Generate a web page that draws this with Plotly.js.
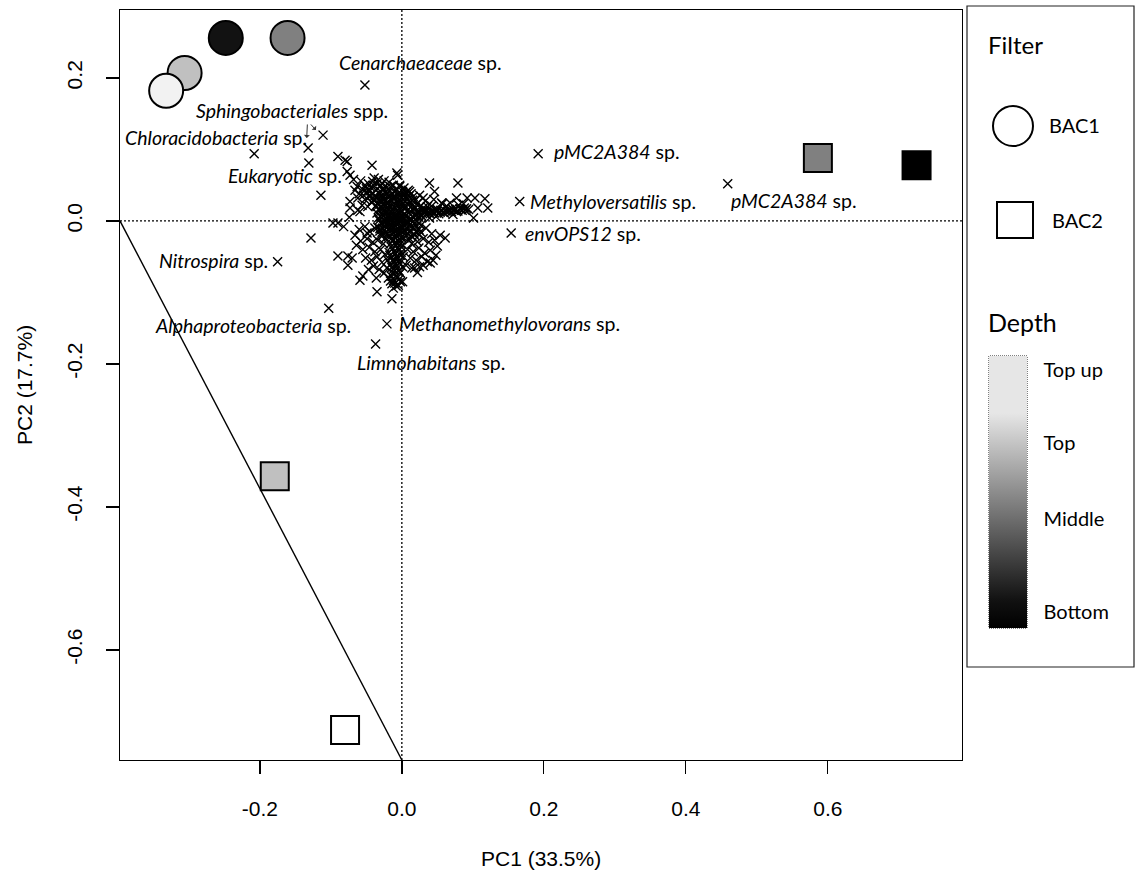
<!DOCTYPE html>
<html>
<head>
<meta charset="utf-8">
<script src="https://cdn.plot.ly/plotly-3.0.1.min.js"></script>
<style>html,body{margin:0;padding:0;background:#fff;}#chart{width:1136px;height:881px;}</style>
</head>
<body>
<div id="chart"></div>
<script>
// ---------------- data ----------------
// sample scores (Filter BAC1 = circles, BAC2 = squares)
const bac1PC1 = [-0.306, -0.332, -0.248, -0.161];
const bac1PC2 = [0.207, 0.182, 0.256, 0.256];
const bac1Depth = ['Top', 'Top up', 'Bottom', 'Middle'];
const bac2PC1 = [-0.080, -0.179, 0.586, 0.725];
const bac2PC2 = [-0.712, -0.357, 0.088, 0.078];
const bac2Depth = ['Top up', 'Top', 'Middle', 'Bottom'];
const depthNames = ['Bottom', 'Middle', 'Top', 'Top up'];
const depthColors = {'Top up': '#f2f2f2', 'Top': '#c0c0c0', 'Middle': '#808080', 'Bottom': '#121212'};
const depthColorsSq = {'Top up': '#ffffff', 'Top': '#c0c0c0', 'Middle': '#808080', 'Bottom': '#000000'};
const depthScalePos = [0.06, 0.40, 0.68, 0.95];

// species (OTU) scores, [PC1, PC2]
const speciesScores = [
  [-0.052,0.190],[-0.208,0.094],[-0.132,0.102],[-0.111,0.120],[-0.131,0.081],[-0.114,0.036],
  [-0.175,-0.057],[-0.128,-0.024],[-0.103,-0.122],[-0.021,-0.144],[-0.037,-0.172],
  [0.192,0.094],[0.166,0.027],[0.154,-0.017],[0.459,0.052],
  [-0.090,0.090],[-0.077,0.083],[-0.080,0.085],[-0.042,0.078],[-0.077,0.069],[-0.073,0.064],
  [-0.007,0.067],[-0.006,0.064],[-0.066,0.043],[-0.073,0.027],[-0.073,0.018],[-0.062,0.015],
  [0.039,0.053],[0.046,0.041],[0.079,0.053],[0.077,0.032],[0.092,0.032],[0.103,0.032],[0.117,0.031],
  [0.107,0.018],[0.121,0.018],[0.101,0.004],[0.025,0.036],[0.030,0.032],[-0.097,-0.003],[-0.090,-0.003],
  [0.056,0.025],[0.049,0.015],[0.035,0.015],[0.011,0.041],[-0.003,0.050],
  [-0.090,-0.049],[-0.076,-0.049],[-0.070,-0.052],[-0.076,-0.062],[-0.059,-0.083],[-0.055,-0.077],
  [-0.035,-0.099],[-0.014,-0.109],[0.001,-0.085],[-0.066,-0.020],[-0.049,-0.017],
  [0.044,-0.055],[0.040,-0.059],[0.025,-0.064],[0.018,-0.066],[0.061,-0.024],[0.054,-0.020],
  [-0.059,0.013],[-0.074,0.005],[-0.082,-0.008],
  // core
  [-0.030,0.049],[-0.021,0.047],[-0.012,0.050],[0.003,0.046],
  [-0.036,0.043],[-0.027,0.045],[-0.017,0.042],[-0.008,0.044],[0.001,0.041],[0.009,0.043],
  [-0.041,0.039],[-0.032,0.038],[-0.024,0.040],[-0.014,0.037],[-0.005,0.039],[0.004,0.036],[0.013,0.038],
  [-0.045,0.035],[-0.035,0.033],[-0.028,0.036],[-0.019,0.034],[-0.012,0.031],[-0.003,0.035],[0.006,0.033],[0.016,0.034],
  [-0.038,0.030],[-0.031,0.028],[-0.025,0.031],[-0.016,0.029],[-0.009,0.032],[-0.001,0.028],[0.008,0.030],[0.019,0.029],
  [-0.042,0.026],[-0.034,0.024],[-0.027,0.027],[-0.020,0.025],[-0.013,0.023],[-0.006,0.026],[0.001,0.024],[0.011,0.026],[0.022,0.025],
  [-0.037,0.021],[-0.029,0.019],[-0.023,0.022],[-0.016,0.020],[-0.010,0.018],[-0.004,0.021],[0.004,0.019],[0.014,0.021],[0.026,0.020],
  [-0.033,0.016],[-0.026,0.014],[-0.019,0.017],[-0.013,0.015],[-0.008,0.013],[-0.002,0.016],[0.007,0.014],[0.017,0.016],[0.029,0.015],
  [-0.035,0.011],[-0.028,0.009],[-0.021,0.012],[-0.015,0.010],[-0.009,0.008],[-0.003,0.011],[0.003,0.009],[0.010,0.011],[0.020,0.010],[0.032,0.012],
  [-0.030,0.006],[-0.023,0.004],[-0.017,0.007],[-0.011,0.005],[-0.005,0.003],[0.001,0.006],[0.008,0.004],[0.015,0.006],[0.024,0.005],
  [-0.032,0.001],[-0.025,-0.001],[-0.018,0.002],[-0.012,0.000],[-0.006,-0.002],[0.000,0.001],[0.006,-0.001],[0.013,0.001],[0.021,0.000],
  [-0.028,-0.005],[-0.021,-0.003],[-0.014,-0.006],[-0.008,-0.004],[-0.002,-0.006],[0.004,-0.003],[0.011,-0.005],[0.018,-0.004],[0.027,-0.006],
  [-0.034,-0.009],[-0.026,-0.011],[-0.019,-0.008],[-0.012,-0.010],[-0.005,-0.012],[0.001,-0.009],[0.008,-0.011],[0.016,-0.009],[0.024,-0.012],
  [-0.031,-0.014],[-0.023,-0.016],[-0.016,-0.013],[-0.010,-0.015],[-0.004,-0.017],[0.003,-0.014],[0.011,-0.016],[0.020,-0.015],
  [-0.027,-0.020],[-0.019,-0.022],[-0.013,-0.019],[-0.007,-0.021],[-0.001,-0.023],[0.006,-0.020],[0.014,-0.022],[0.025,-0.019],
  [-0.026,0.046],[-0.016,0.048],[-0.003,0.048],[0.006,0.040],
  [-0.039,0.034],[-0.030,0.041],[-0.021,0.038],[-0.010,0.040],[0.000,0.037],[0.010,0.035],
  [-0.040,0.029],[-0.029,0.032],[-0.022,0.029],[-0.013,0.033],[-0.004,0.030],[0.005,0.027],[0.015,0.029],
  [-0.035,0.020],[-0.027,0.023],[-0.018,0.021],[-0.008,0.022],[0.002,0.020],[0.009,0.022],[0.019,0.019],
  [-0.030,0.013],[-0.024,0.016],[-0.016,0.014],[-0.006,0.015],[0.001,0.013],[0.012,0.014],[0.023,0.013],
  [-0.033,0.004],[-0.026,0.007],[-0.019,0.005],[-0.009,0.006],[-0.002,0.004],[0.005,0.007],[0.012,0.003],[0.019,0.007],
  [-0.029,-0.003],[-0.022,0.000],[-0.015,-0.002],[-0.009,0.001],[-0.003,-0.001],[0.003,0.002],[0.009,-0.002],[0.016,-0.001],[0.024,-0.003],
  [-0.031,-0.011],[-0.024,-0.007],[-0.016,-0.010],[-0.008,-0.007],[-0.001,-0.010],[0.005,-0.007],[0.013,-0.008],[0.021,-0.008],
  [-0.028,-0.016],[-0.020,-0.018],[-0.013,-0.016],[-0.006,-0.018],[0.001,-0.016],[0.008,-0.018],[0.017,-0.018],
  [-0.023,-0.024],[-0.015,-0.025],[-0.009,-0.024],[-0.003,-0.026],[0.003,-0.024],[0.010,-0.027],
  // upper-left arm
  [-0.058,0.056],[-0.052,0.050],[-0.055,0.044],[-0.047,0.052],[-0.049,0.040],[-0.044,0.047],[-0.041,0.055],
  [-0.046,0.034],[-0.052,0.030],[-0.060,0.038],[-0.063,0.048],[-0.039,0.060],[-0.033,0.058],[-0.025,0.056],
  [-0.018,0.054],[-0.056,0.022],[-0.048,0.020],[-0.043,0.026],[-0.062,0.032],[-0.068,0.058],
  [-0.050,0.045],[-0.040,0.050],[-0.035,0.052],[-0.054,0.036],[-0.045,0.042],[-0.028,0.052],
  // tail to the right
  [0.020,0.008],[0.024,0.011],[0.028,0.007],[0.031,0.012],[0.034,0.009],[0.037,0.013],[0.040,0.010],
  [0.043,0.014],[0.046,0.011],[0.049,0.013],[0.052,0.010],[0.055,0.015],[0.058,0.012],[0.061,0.014],
  [0.064,0.013],[0.067,0.016],[0.070,0.013],[0.073,0.015],[0.076,0.016],[0.079,0.014],[0.082,0.017],
  [0.085,0.015],[0.088,0.018],[0.091,0.017],[0.094,0.016],[0.030,0.018],[0.036,0.020],[0.042,0.021],
  [0.048,0.006],[0.039,0.004],[0.063,0.021],[0.072,0.009],[0.057,0.024],[0.068,0.025],[0.080,0.022],
  [0.087,0.024],[0.033,0.028],[0.045,0.030],
  [0.022,0.013],[0.026,0.009],[0.032,0.015],[0.038,0.011],[0.044,0.012],[0.050,0.016],[0.054,0.012],
  [0.060,0.011],[0.066,0.014],[0.071,0.017],[0.077,0.013],[0.083,0.016],[0.089,0.015],
  // vertical arm
  [-0.012,-0.026],[-0.005,-0.028],[-0.016,-0.032],[-0.008,-0.034],[-0.001,-0.036],[-0.013,-0.039],
  [-0.004,-0.041],[-0.018,-0.044],[-0.009,-0.046],[-0.002,-0.048],[-0.014,-0.051],[-0.006,-0.053],
  [-0.011,-0.057],[-0.003,-0.059],[-0.016,-0.061],[-0.008,-0.063],[-0.012,-0.068],[-0.004,-0.070],
  [-0.010,-0.074],[-0.015,-0.077],[-0.006,-0.079],[-0.011,-0.083],[-0.002,-0.085],[-0.014,-0.088],
  [-0.008,-0.091],[-0.019,-0.080],[-0.021,-0.066],[0.001,-0.064],[-0.020,-0.055],[0.002,-0.050],
  [-0.009,-0.030],[-0.002,-0.032],[-0.015,-0.036],[-0.006,-0.038],[-0.011,-0.043],[-0.001,-0.044],
  [-0.017,-0.048],[-0.007,-0.050],[-0.013,-0.055],[-0.005,-0.057],[-0.009,-0.060],[-0.014,-0.065],
  [-0.007,-0.067],[-0.002,-0.073],[-0.013,-0.072],[-0.008,-0.077],[-0.004,-0.082],[-0.016,-0.084],
  [-0.010,-0.087],[-0.005,-0.090],[-0.012,-0.094],
  // lower-left lobe
  [-0.060,-0.012],[-0.052,-0.008],[-0.045,-0.015],[-0.038,-0.010],[-0.030,-0.020],[-0.058,-0.028],
  [-0.049,-0.025],[-0.041,-0.030],[-0.034,-0.027],[-0.026,-0.032],[-0.055,-0.040],[-0.046,-0.037],
  [-0.038,-0.043],[-0.030,-0.040],[-0.024,-0.047],[-0.051,-0.052],[-0.043,-0.055],[-0.035,-0.050],
  [-0.028,-0.058],[-0.040,-0.063],[-0.032,-0.068],[-0.025,-0.073],[-0.047,-0.068],[-0.064,-0.034],[-0.036,-0.080],
  // lower-right lobe
  [0.010,-0.024],[0.018,-0.020],[0.026,-0.015],[0.034,-0.010],[0.042,-0.018],[0.014,-0.032],[0.022,-0.029],
  [0.030,-0.025],[0.038,-0.030],[0.046,-0.027],[0.008,-0.040],[0.016,-0.043],[0.024,-0.038],[0.032,-0.045],
  [0.040,-0.041],[0.012,-0.052],[0.020,-0.055],[0.028,-0.050],[0.036,-0.057],[0.006,-0.062],[0.014,-0.066],
  [0.050,-0.035],[0.048,-0.048],[0.030,-0.062],[0.022,-0.072]
];

// taxon labels
const taxonNames = ['Cenarchaeaceae','Sphingobacteriales','Chloracidobacteria','Eukaryotic','pMC2A384',
  'Methyloversatilis','pMC2A384','envOPS12','Nitrospira','Alphaproteobacteria','Methanomethylovorans','Limnohabitans'];
const taxonSuffix = ['sp.','spp.','sp.','sp.','sp.','sp.','sp.','sp.','sp.','sp.','sp.','sp.'];
const taxonLabelPC1 = [-0.0915,-0.293,-0.393,-0.248,0.211,0.177,0.461,0.170,-0.345,-0.351,-0.007,-0.066];
const taxonLabelPC2 = [0.222,0.155,0.116,0.064,0.097,0.027,0.029,-0.017,-0.056,-0.146,-0.143,-0.198];
// two pointer arrows (head / tail) for Sphingobacteriales
const arrowHeadPC1 = [-0.134, -0.121];
const arrowHeadPC2 = [0.116, 0.127];
const arrowTailPC1 = [-0.133, -0.130];
const arrowTailPC2 = [0.137, 0.137];

// diagonal line
const diagPC1 = [-0.397, 0.0];
const diagPC2 = [0.0, -0.754];

const xTicks = [-0.2, 0.0, 0.2, 0.4, 0.6];
const yTicks = [-0.6, -0.4, -0.2, 0.0, 0.2];
const xTitle = 'PC1 (33.5%)';
const yTitle = 'PC2 (17.7%)';

// ---------------- layout helpers ----------------
const W = 1136, H = 881;
const M = {l: 120, r: W - 962, t: 10, b: H - 760};
const PW = W - M.l - M.r, PH = H - M.t - M.b;
const fx = px => (px - M.l) / PW;
const fy = py => (H - M.b - py) / PH;
const LAB = 'Lato, "Open Sans", sans-serif';
const ARIAL = '"Liberation Sans", Arial, sans-serif';

const traces = [];
traces.push({
  type: 'scatter', mode: 'lines', x: diagPC1, y: diagPC2,
  line: {color: '#000', width: 1.4}, hoverinfo: 'skip', showlegend: false
});
traces.push({
  type: 'scatter', mode: 'markers',
  x: speciesScores.map(p => p[0]), y: speciesScores.map(p => p[1]),
  marker: {symbol: 'x-thin', size: 9, line: {color: '#000', width: 1.4}},
  hoverinfo: 'skip', showlegend: false
});
traces.push({
  type: 'scatter', mode: 'markers', x: bac1PC1, y: bac1PC2,
  marker: {symbol: 'circle', size: 34, color: bac1Depth.map(d => depthColors[d]), line: {color: '#000', width: 2}},
  showlegend: false
});
traces.push({
  type: 'scatter', mode: 'markers', x: bac2PC1, y: bac2PC2,
  marker: {symbol: 'square', size: 28, color: bac2Depth.map(d => depthColorsSq[d]), line: {color: '#000', width: 2}},
  showlegend: false
});
// colour bar holder (depth legend)
traces.push({
  type: 'scatter', mode: 'markers', x: [null, null], y: [null, null], hoverinfo: 'skip', showlegend: false,
  marker: {
    color: [0, 1], cmin: 0, cmax: 1, cauto: false, showscale: true,
    colorscale: [[0, '#000000'], [0.1, '#111111'], [0.79, '#e6e6e6'], [1, '#e6e6e6']],
    colorbar: {
      x: fx(989), xanchor: 'left', xref: 'paper', y: fy(492), yanchor: 'middle', yref: 'paper',
      len: 272, lenmode: 'pixels', thickness: 38, thicknessmode: 'pixels',
      xpad: 0, ypad: 0, outlinewidth: 0, borderwidth: 0,
      tickmode: 'array', tickvals: depthScalePos, ticktext: depthNames,
      ticks: 'outside', ticklen: 13, tickcolor: 'rgba(0,0,0,0)',
      tickfont: {family: LAB, size: 20, color: '#000'}
    }
  }
});

const annotations = [];
taxonNames.forEach((n, i) => {
  annotations.push({
    x: taxonLabelPC1[i], y: taxonLabelPC2[i], xref: 'x', yref: 'y', xanchor: 'left', yanchor: 'middle',
    text: '<i>' + n + '</i> ' + taxonSuffix[i], showarrow: false,
    font: {family: LAB, size: 19.5, color: '#000'}
  });
});
arrowHeadPC1.forEach((x, i) => {
  annotations.push({
    x: x, y: arrowHeadPC2[i], ax: arrowTailPC1[i], ay: arrowTailPC2[i], axref: 'x', ayref: 'y',
    xref: 'x', yref: 'y', text: '', showarrow: true, arrowhead: 1, arrowsize: 1, arrowwidth: 1, arrowcolor: '#333'
  });
});
annotations.push({x: fx(541), y: fy(858), xref: 'paper', yref: 'paper', text: xTitle, showarrow: false,
  xanchor: 'center', yanchor: 'middle', font: {family: ARIAL, size: 21, color: '#000'}});
annotations.push({x: fx(24), y: fy(385), xref: 'paper', yref: 'paper', text: yTitle, showarrow: false, textangle: -90,
  xanchor: 'center', yanchor: 'middle', font: {family: ARIAL, size: 21, color: '#000'}});
// legend texts
annotations.push({x: fx(986), y: fy(45), xref: 'paper', yref: 'paper', text: 'Filter', showarrow: false,
  xanchor: 'left', yanchor: 'middle', font: {family: LAB, size: 24, color: '#000'}});
annotations.push({x: fx(1047), y: fy(125), xref: 'paper', yref: 'paper', text: 'BAC1', showarrow: false,
  xanchor: 'left', yanchor: 'middle', font: {family: LAB, size: 20, color: '#000'}});
annotations.push({x: fx(1050), y: fy(220), xref: 'paper', yref: 'paper', text: 'BAC2', showarrow: false,
  xanchor: 'left', yanchor: 'middle', font: {family: LAB, size: 20, color: '#000'}});
annotations.push({x: fx(986), y: fy(322), xref: 'paper', yref: 'paper', text: 'Depth', showarrow: false,
  xanchor: 'left', yanchor: 'middle', font: {family: LAB, size: 25, color: '#000'}});

const shapes = [
  {type: 'line', xref: 'x', yref: 'paper', x0: 0, x1: 0, y0: 0, y1: 1, layer: 'below',
   line: {color: '#000', width: 1.3, dash: '2px,2px'}},
  {type: 'line', xref: 'paper', yref: 'y', x0: 0, x1: 1, y0: 0, y1: 0, layer: 'below',
   line: {color: '#000', width: 1.3, dash: '2px,2px'}},
  // legend frame
  {type: 'rect', xref: 'paper', yref: 'paper', x0: fx(967), x1: fx(1134), y0: fy(667), y1: fy(6),
   line: {color: '#222', width: 1.2}},
  // legend symbols
  {type: 'circle', xref: 'paper', yref: 'paper', x0: fx(993), x1: fx(1033), y0: fy(146), y1: fy(106),
   line: {color: '#000', width: 2}, fillcolor: '#fff'},
  {type: 'rect', xref: 'paper', yref: 'paper', x0: fx(997), x1: fx(1033), y0: fy(238), y1: fy(202),
   line: {color: '#000', width: 2}, fillcolor: '#fff'},
  // dotted colour-bar outline
  {type: 'rect', xref: 'paper', yref: 'paper', x0: fx(989), x1: fx(1027), y0: fy(628), y1: fy(356),
   line: {color: '#000', width: 1, dash: '1px,1px'}}
];

const axisCommon = {
  showgrid: false, zeroline: false, showline: true, mirror: true, linecolor: '#000', linewidth: 1.3,
  ticks: 'outside', ticklen: 13, tickwidth: 1.3, tickcolor: '#000',
  tickfont: {family: ARIAL, size: 21, color: '#000'}, tickmode: 'array'
};
const layout = {
  width: W, height: H, margin: M, paper_bgcolor: '#fff', plot_bgcolor: '#fff', showlegend: false,
  xaxis: Object.assign({}, axisCommon, {range: [-0.397, 0.789], tickvals: xTicks,
    ticktext: xTicks.map(v => v.toFixed(1)), ticklabelstandoff: 16}),
  yaxis: Object.assign({}, axisCommon, {range: [-0.754, 0.295], tickvals: yTicks,
    ticktext: yTicks.map(v => v.toFixed(1)), tickangle: -90, ticklabelstandoff: 15}),
  shapes: shapes, annotations: annotations
};
Plotly.newPlot('chart', traces, layout, {displayModeBar: false, staticPlot: true});
</script>
</body>
</html>
